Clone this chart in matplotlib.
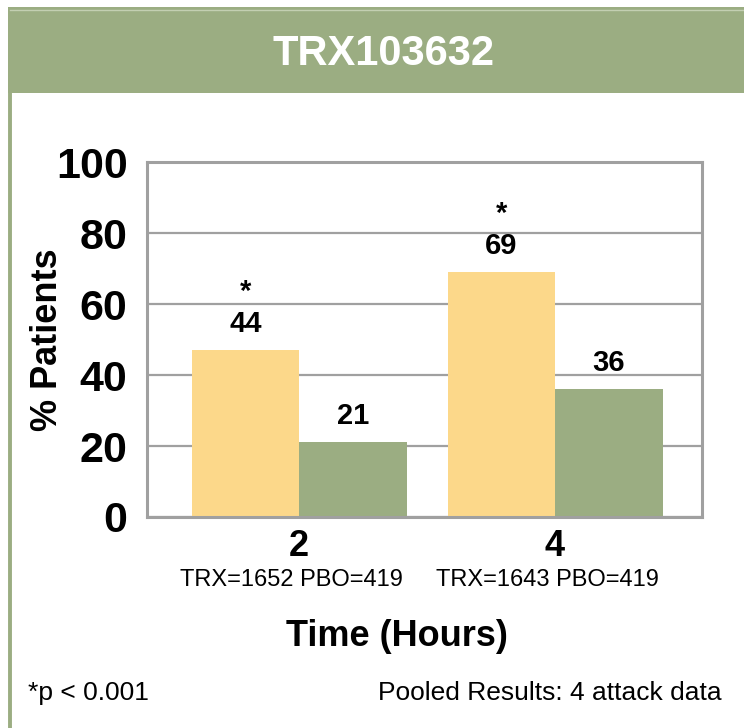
""" TRX103632 pooled results bar chart """
import numpy as np
from matplotlib import pyplot as plt
from matplotlib import transforms
from matplotlib.patches import Rectangle
from matplotlib.lines import Line2D

plt.rcParams['font.family'] = ['Liberation Sans', 'DejaVu Sans']

# Data
hours = ['2', '4']
n_text = ['TRX=1652 PBO=419', 'TRX=1643 PBO=419']
trx_bar = [47, 69]        # bar heights as drawn
pbo_bar = [21, 36]
trx_label = ['44', '69']  # printed values
pbo_label = ['21', '36']
yticks = [0, 20, 40, 60, 80, 100]

clr_trx = '#FCD88A'
clr_pbo = '#9BAD82'
clr_head = '#9BAD82'
clr_grid = '#A0A0A0'

fig = plt.figure(figsize=(7.44, 7.28), dpi=100)

# Header band + left border
W, H = 744., 728.
fig.patches.append(Rectangle((8/W, 1-93/H), 1-8/W, 86/H, transform=fig.transFigure,
                             facecolor=clr_head, edgecolor='none', zorder=0))
fig.lines.append(Line2D([10/W, 1], [1-9.5/H, 1-9.5/H], transform=fig.transFigure,
                        color='#C3CFB2', lw=1.0))
fig.lines.append(Line2D([9.5/W, 9.5/W], [0, 1-93/H], transform=fig.transFigure,
                        color=clr_head, lw=2.8))
fig.text(0.515, 1-54/H, 'TRX103632', color='white', fontsize=30,
         fontweight='bold', ha='center', va='center')

ax = fig.add_axes([147/W, 1-517/H, 555/W, 355/H])

x = np.arange(len(hours))
width = 0.42
ax.bar(x - width/2, trx_bar, width, color=clr_trx, zorder=2)
ax.bar(x + width/2, pbo_bar, width, color=clr_pbo, zorder=2)

# Value labels
for ii in range(len(hours)):
    ax.annotate(trx_label[ii], (x[ii] - width/2, trx_bar[ii]), xytext=(0, 19),
                textcoords='offset points', ha='center', va='center',
                fontsize=21, fontweight='bold')
    ax.annotate('*', (x[ii] - width/2, trx_bar[ii]), xytext=(0, 42),
                textcoords='offset points', ha='center', va='center',
                fontsize=21, fontweight='bold')
    ax.annotate(pbo_label[ii], (x[ii] + width/2, pbo_bar[ii]), xytext=(0, 19),
                textcoords='offset points', ha='center', va='center',
                fontsize=21, fontweight='bold')

# Axes
ax.set_xlim(-0.594, 1.574)
ax.set_ylim(0, 100)
ax.set_yticks(yticks)
ax.set_xticks(x)
ax.set_xticklabels(hours)
ax.tick_params(axis='y', length=0, pad=14, labelsize=31)
ax.tick_params(axis='x', length=0, pad=9, labelsize=26)
for lbl in ax.get_xticklabels() + ax.get_yticklabels():
    lbl.set_fontweight('bold')
ax.yaxis.grid(True, color=clr_grid, lw=1.6, zorder=1)
ax.set_axisbelow(True)
for sp in ax.spines.values():
    sp.set_color(clr_grid)
    sp.set_linewidth(2.2)
    sp.set_zorder(3)

ax.set_ylabel('% Patients', fontsize=26, fontweight='bold')
ax.yaxis.set_label_coords(-(147-65)/555, 0.5)

trans = transforms.blended_transform_factory(ax.transData, ax.transAxes)
for ii, txt in enumerate(n_text):
    ax.text(x[ii] - 0.03, -(580-517)/355, txt, transform=trans,
            ha='center', va='center', fontsize=17)

fig.text(397/W, 1-636/H, 'Time (Hours)', fontsize=26, fontweight='bold',
         ha='center', va='center')
fig.text(28/W, 1-693/H, '*p < 0.001', fontsize=19, ha='left', va='center')
fig.text(722/W, 1-693/H, 'Pooled Results: 4 attack data', fontsize=19,
         ha='right', va='center')

plt.savefig('out.png', dpi=100)
print('Saved out.png')
